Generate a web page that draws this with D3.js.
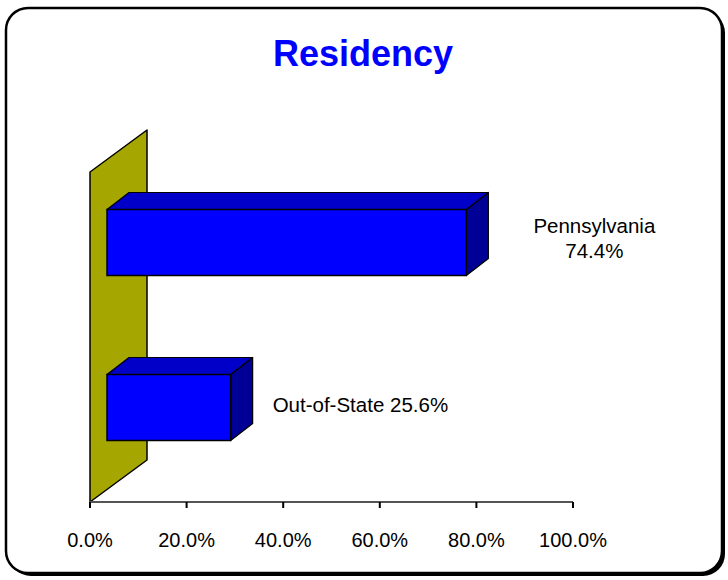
<!DOCTYPE html>
<html>
<head>
<meta charset="utf-8">
<script src="https://cdn.jsdelivr.net/npm/d3@7"></script>
<style>
  body { margin: 0; background: #fff; }
  text { font-family: Arial, "Liberation Sans", sans-serif; }
</style>
</head>
<body>
<div class="grafico"></div>
<script>
// dados do gráfico
var categorias = ["Pennsylvania", "Out-of-State"];
var valores = [74.4, 25.6];
var ticks = [0, 20, 40, 60, 80, 100];

var width = 728, height = 580;

var svg = d3.select(".grafico")
  .append("svg")
  .attr("width", width)
  .attr("height", height);

// moldura com sombra
svg.append("rect")
  .attr("x", 9).attr("y", 11)
  .attr("width", 716).attr("height", 565)
  .attr("rx", 22)
  .attr("fill", "#000");
svg.append("rect")
  .attr("x", 6).attr("y", 8)
  .attr("width", 716).attr("height", 565)
  .attr("rx", 22)
  .attr("fill", "#fff")
  .attr("stroke", "#000")
  .attr("stroke-width", 2.5);

// título
svg.append("text")
  .attr("x", 363).attr("y", 66)
  .attr("text-anchor", "middle")
  .attr("font-size", 36)
  .attr("font-weight", "bold")
  .attr("fill", "#0000ff")
  .text("Residency");

// escalas
var xScale = d3.scaleLinear().domain([0, 100]).range([90, 573]);
var yScale = d3.scaleBand()
  .domain(categorias)
  .range([172, 502])
  .paddingInner(0.6)
  .paddingOuter(0.3);

// profundidade 3D
var wallDepth = [57, -42];
var frontOff = [17, -12];
var barDepth = [22, -17];

// parede lateral
var x0 = xScale(0), yTop = 172, yBot = 502;
svg.append("polygon")
  .attr("points", [
    [x0, yBot], [x0, yTop],
    [x0 + wallDepth[0], yTop + wallDepth[1]],
    [x0 + wallDepth[0], yBot + wallDepth[1]]
  ].map(function(p){ return p.join(","); }).join(" "))
  .attr("fill", "#a6a600")
  .attr("stroke", "#000")
  .attr("stroke-width", 1.5)
  .attr("stroke-linejoin", "round");

// barras
var dados = categorias.map(function(c, i){ return { nome: c, valor: valores[i] }; });

var barras = svg.selectAll(".barra")
  .data(dados)
  .enter()
  .append("g")
  .attr("class", "barra");

function pts(arr) { return arr.map(function(p){ return p.join(","); }).join(" "); }

barras.each(function(d) {
  var g = d3.select(this);
  var xl = xScale(0) + frontOff[0];
  var xr = xScale(d.valor) + frontOff[0];
  var yt = yScale(d.nome) + frontOff[1];
  var yb = yt + yScale.bandwidth();
  var dx = barDepth[0], dy = barDepth[1];

  // lado direito
  g.append("polygon")
    .attr("points", pts([[xr, yt], [xr + dx, yt + dy], [xr + dx, yb + dy], [xr, yb]]))
    .attr("fill", "#000096").attr("stroke", "#000").attr("stroke-width", 1.2)
    .attr("stroke-linejoin", "round");
  // topo
  g.append("polygon")
    .attr("points", pts([[xl, yt], [xl + dx, yt + dy], [xr + dx, yt + dy], [xr, yt]]))
    .attr("fill", "#0000c8").attr("stroke", "#000").attr("stroke-width", 1.2)
    .attr("stroke-linejoin", "round");
  // frente
  g.append("rect")
    .attr("x", xl).attr("y", yt)
    .attr("width", xr - xl).attr("height", yb - yt)
    .attr("fill", "#0000ff").attr("stroke", "#000").attr("stroke-width", 1.5);
});

// rótulos
var labelSize = 20.5;
var d0 = dados[0];
var lx0 = xScale(d0.valor) + frontOff[0] + barDepth[0] + 106;
var lab0 = svg.append("text")
  .attr("text-anchor", "middle")
  .attr("font-size", labelSize)
  .attr("fill", "#000");
lab0.append("tspan").attr("x", lx0).attr("y", 233).text(d0.nome);
lab0.append("tspan").attr("x", lx0).attr("y", 258).text(d0.valor.toFixed(1) + "%");

var d1 = dados[1];
svg.append("text")
  .attr("x", xScale(d1.valor) + frontOff[0] + barDepth[0] + 20)
  .attr("y", 412)
  .attr("font-size", labelSize)
  .attr("fill", "#000")
  .text(d1.nome + " " + d1.valor.toFixed(1) + "%");

// eixo x
var eixo = svg.append("g");
eixo.append("line")
  .attr("x1", xScale(0)).attr("x2", xScale(100))
  .attr("y1", 502).attr("y2", 502)
  .attr("stroke", "#555").attr("stroke-width", 2);
eixo.selectAll(".tick")
  .data(ticks)
  .enter()
  .append("line")
  .attr("x1", function(d){ return xScale(d); })
  .attr("x2", function(d){ return xScale(d); })
  .attr("y1", 502).attr("y2", 508)
  .attr("stroke", "#000").attr("stroke-width", 2);
eixo.selectAll(".ticklabel")
  .data(ticks)
  .enter()
  .append("text")
  .attr("x", function(d){ return xScale(d); })
  .attr("y", 547)
  .attr("text-anchor", "middle")
  .attr("font-size", 20)
  .attr("fill", "#000")
  .text(function(d){ return d.toFixed(1) + "%"; });
</script>
</body>
</html>
